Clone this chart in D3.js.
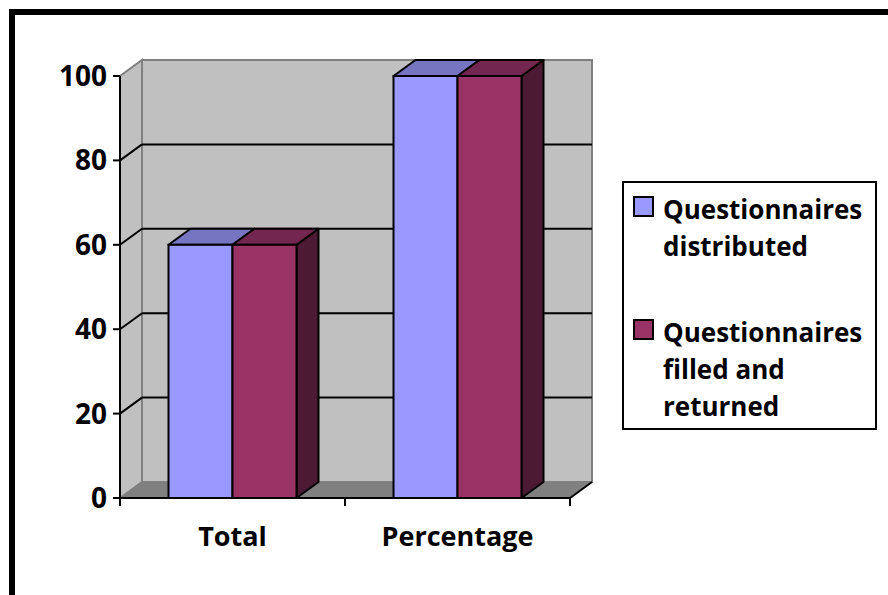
<!DOCTYPE html>
<html>
<head>
<meta charset="utf-8">
<script src="https://cdn.jsdelivr.net/npm/d3@7"></script>
<style>
  html, body { margin: 0; padding: 0; background: #fff; }
  svg { display: block; }
  text { font-family: "Open Sans", "DejaVu Sans", sans-serif; font-weight: bold; fill: #000; }
</style>
</head>
<body>
<svg id="chart" width="888" height="595"></svg>
<script>
// Survey response counts and percentages
const categories = ["Total", "Percentage"];
const seriesNames = ["Questionnaires distributed", "Questionnaires filled and returned"];
const distributed = [60, 100];
const returned = [60, 100];
const yTicks = [0, 20, 40, 60, 80, 100];
const legendLines = [["Questionnaires", "distributed"], ["Questionnaires", "filled and", "returned"]];

const seriesValues = [distributed, returned];
const colors = {
  front: ["#9999ff", "#993366"],
  top: ["#7575c2", "#73264f"],
  side: ["#5c5c99", "#4d1a33"]
};

const svg = d3.select("#chart");

// Outer frame
svg.append("rect")
  .attr("x", 12).attr("y", 12).attr("width", 900).attr("height", 620)
  .attr("fill", "none").attr("stroke", "#000").attr("stroke-width", 6);

// 3D plot geometry
const x0 = 120, x1 = 570;
const dx = 22, dy = -16;
const y = d3.scaleLinear().domain([0, 100]).range([498, 76]);
const x = d3.scaleBand().domain(categories).range([x0, x1]).padding(0);
const inner = d3.scaleBand().domain(seriesNames).range([0, x.bandwidth()]).paddingOuter(0.758).paddingInner(0);

const g = svg.append("g");

// Back wall
g.append("rect")
  .attr("x", x0 + dx).attr("y", y(100) + dy)
  .attr("width", x1 - x0).attr("height", y(0) - y(100))
  .attr("fill", "#c0c0c0").attr("stroke", "#808080").attr("stroke-width", 2);

// Side wall
g.append("polygon")
  .attr("points", [[x0, y(0)], [x0 + dx, y(0) + dy], [x0 + dx, y(100) + dy], [x0, y(100)]].map(p => p.join(",")).join(" "))
  .attr("fill", "#c0c0c0").attr("stroke", "#808080").attr("stroke-width", 2);

// Floor
g.append("polygon")
  .attr("points", [[x0, y(0)], [x1, y(0)], [x1 + dx, y(0) + dy], [x0 + dx, y(0) + dy]].map(p => p.join(",")).join(" "))
  .attr("fill", "#808080").attr("stroke", "#808080").attr("stroke-width", 1);
g.append("path")
  .attr("d", `M${x0},${y(0)}L${x1},${y(0)}L${x1 + dx},${y(0) + dy}`)
  .attr("fill", "none").attr("stroke", "#000").attr("stroke-width", 2);

// Gridlines on back and side walls
const grid = yTicks.filter(v => v > 0 && v < 100);
g.selectAll(".grid-back").data(grid).join("line")
  .attr("x1", x0 + dx).attr("x2", x1 + dx)
  .attr("y1", d => y(d) + dy).attr("y2", d => y(d) + dy)
  .attr("stroke", "#000").attr("stroke-width", 2);
g.selectAll(".grid-side").data(grid).join("line")
  .attr("x1", x0).attr("x2", x0 + dx)
  .attr("y1", d => y(d)).attr("y2", d => y(d) + dy)
  .attr("stroke", "#000").attr("stroke-width", 2);

// Bars (front, top, side faces)
categories.forEach((cat, ci) => {
  seriesNames.forEach((s, si) => {
    const v = seriesValues[si][ci];
    const bx = x(cat) + inner(s);
    const bw = inner.bandwidth();
    const by = y(v), b0 = y(0);
    const bg = g.append("g");
    bg.append("polygon")
      .attr("points", [[bx + bw, by], [bx + bw + dx, by + dy], [bx + bw + dx, b0 + dy], [bx + bw, b0]].map(p => p.join(",")).join(" "))
      .attr("fill", colors.side[si]).attr("stroke", "#000").attr("stroke-width", 2).attr("stroke-linejoin", "round");
    bg.append("polygon")
      .attr("points", [[bx, by], [bx + dx, by + dy], [bx + bw + dx, by + dy], [bx + bw, by]].map(p => p.join(",")).join(" "))
      .attr("fill", colors.top[si]).attr("stroke", "#000").attr("stroke-width", 2).attr("stroke-linejoin", "round");
    bg.append("rect")
      .attr("x", bx).attr("y", by).attr("width", bw).attr("height", b0 - by)
      .attr("fill", colors.front[si]).attr("stroke", "#000").attr("stroke-width", 2);
  });
});

// Y axis
g.append("line").attr("x1", x0).attr("x2", x0).attr("y1", y(0) + 1).attr("y2", y(100))
  .attr("stroke", "#000").attr("stroke-width", 2);
g.selectAll(".ytick").data(yTicks).join("line")
  .attr("x1", x0 - 7).attr("x2", x0).attr("y1", d => y(d)).attr("y2", d => y(d))
  .attr("stroke", "#000").attr("stroke-width", 2);
g.selectAll(".ylabel").data(yTicks).join("text")
  .attr("x", x0 - 13).attr("y", d => y(d)).attr("dy", "0.36em")
  .attr("text-anchor", "end").attr("font-size", 28)
  .text(d => d);

// X axis ticks and labels
const xTickPos = [x0, ...categories.map(c => x(c) + x.bandwidth())];
g.selectAll(".xtick").data(xTickPos).join("line")
  .attr("x1", d => d).attr("x2", d => d).attr("y1", y(0)).attr("y2", y(0) + 8)
  .attr("stroke", "#000").attr("stroke-width", 2);
g.selectAll(".xlabel").data(categories).join("text")
  .attr("x", d => x(d) + x.bandwidth() / 2).attr("y", 546)
  .attr("text-anchor", "middle").attr("font-size", 27)
  .text(d => d);

// Legend
const legend = svg.append("g");
legend.append("rect")
  .attr("x", 623).attr("y", 182).attr("width", 253).attr("height", 247)
  .attr("fill", "#fff").attr("stroke", "#000").attr("stroke-width", 2);
const entryTop = [197, 320];
legendLines.forEach((lines, i) => {
  legend.append("rect")
    .attr("x", 634).attr("y", entryTop[i]).attr("width", 19).attr("height", 19)
    .attr("fill", colors.front[i]).attr("stroke", "#000").attr("stroke-width", 2);
  legend.append("text")
    .attr("x", 663).attr("font-size", 26)
    .selectAll("tspan").data(lines).join("tspan")
    .attr("x", 663).attr("y", (d, k) => entryTop[i] + 22 + k * 37)
    .text(d => d);
});
</script>
</body>
</html>
